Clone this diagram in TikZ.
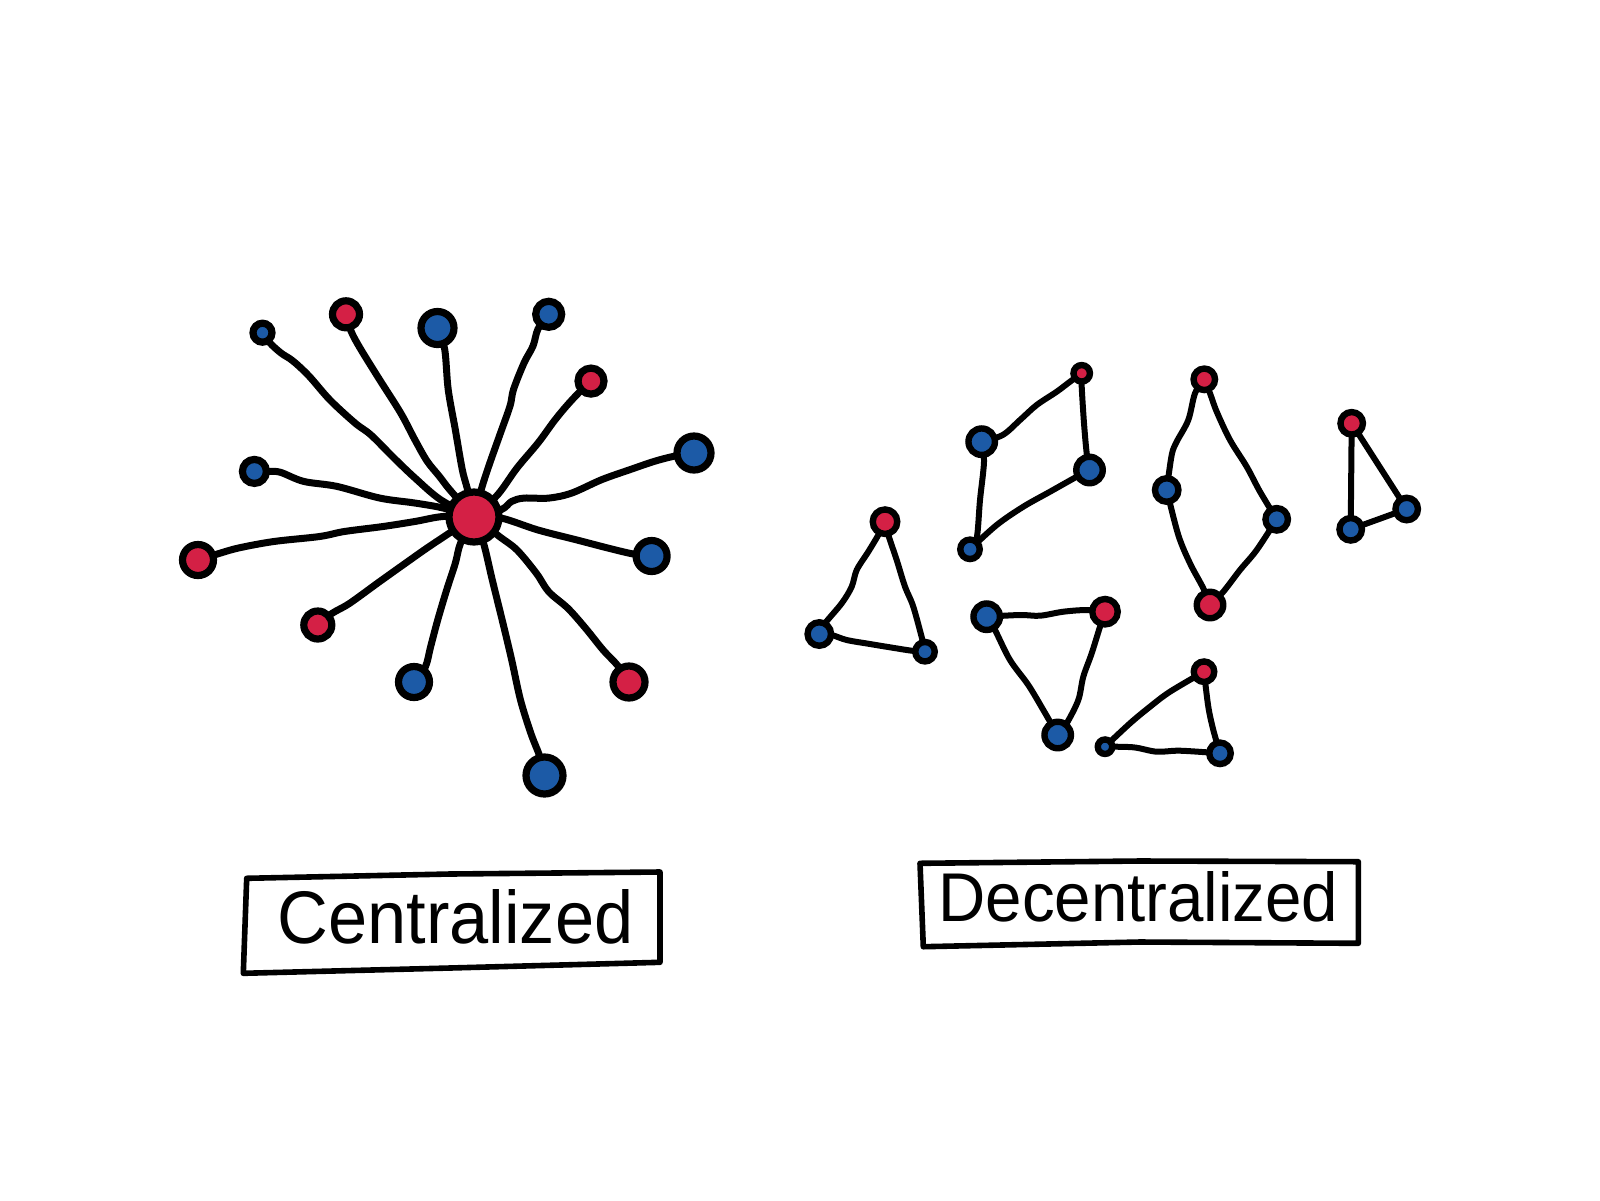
\documentclass[tikz,border=0pt]{standalone}
\usepackage{fontspec}
\newfontfamily\hand{Liberation Sans}
\usetikzlibrary{calc}
\definecolor{nred}{HTML}{D42045}
\definecolor{nblue}{HTML}{1C5AA6}
\pgfdeclarelayer{back}
\pgfdeclarelayer{bg}
\pgfsetlayers{back,bg,main}
\tikzset{
  nd/.style={circle, draw=black, inner sep=0pt},
  srn/.style={nd, line width=3.6pt, fill=nred},
  sbn/.style={nd, line width=3.6pt, fill=nblue},
  drn/.style={nd, line width=3.2pt, fill=nred},
  dbn/.style={nd, line width=3.2pt, fill=nblue},
  sedge/.style={draw=black, line width=3.5pt, line cap=round, line join=round},
  dedge/.style={draw=black, line width=3pt, line cap=round, line join=round},
  boxline/.style={draw=black, line width=2.8pt, line join=round, line cap=round},
}
\begin{document}
\begin{tikzpicture}[x=0.5pt,y=-0.5pt]
\useasboundingbox (0,0) rectangle (1600,1200);
\begin{pgfonlayer}{back}
\fill[white] (0,0) rectangle (1600,1200);
\end{pgfonlayer}

% ---------- centralized star ----------
\node[srn, minimum size=25pt] (C) at (474,517) {};
\node[sbn, minimum size=9.5pt]  (n1)  at (262.5,332.7) {};
\node[srn, minimum size=13.5pt] (n2)  at (346,314.3) {};
\node[sbn, minimum size=16.5pt] (n3)  at (437.5,328) {};
\node[sbn, minimum size=13pt]   (n4)  at (548.7,314.3) {};
\node[srn, minimum size=13pt]   (n5)  at (591,381.1) {};
\node[sbn, minimum size=17pt]   (n6)  at (694,453) {};
\node[sbn, minimum size=15.5pt] (n7)  at (651.6,556) {};
\node[srn, minimum size=16pt]   (n8)  at (629,682) {};
\node[sbn, minimum size=18.5pt] (n9)  at (544.5,775.5) {};
\node[sbn, minimum size=15.5pt] (n10) at (414,682) {};
\node[srn, minimum size=14pt]   (n11) at (317.8,625) {};
\node[srn, minimum size=15.5pt] (n12) at (198,560) {};
\node[sbn, minimum size=12pt]   (n13) at (254.4,471.4) {};

% ---------- decentralized groups ----------
\node[drn, minimum size=12.25pt] (Ar)  at (885,521.7) {};
\node[dbn, minimum size=11.75pt] (Ab1) at (819.3,634) {};
\node[dbn, minimum size=9.75pt]  (Ab2) at (925,651.7) {};

\node[drn, minimum size=8.25pt]  (Br)  at (1081.7,373.3) {};
\node[dbn, minimum size=13.25pt] (Bb1) at (981.7,441.7) {};
\node[dbn, minimum size=13.25pt] (Bb2) at (1089.5,470) {};
\node[dbn, minimum size=9.75pt]  (Bb3) at (970,549.3) {};

\node[dbn, minimum size=13.25pt] (Eb1) at (986.7,616.7) {};
\node[drn, minimum size=12.75pt] (Er)  at (1105,611.7) {};
\node[dbn, minimum size=13.25pt] (Eb2) at (1057.7,735) {};

\node[drn, minimum size=10.75pt] (Cr1) at (1204.3,379.3) {};
\node[dbn, minimum size=11.75pt] (Cb1) at (1166.7,490) {};
\node[dbn, minimum size=11.25pt] (Cb2) at (1276.7,519.3) {};
\node[drn, minimum size=13.25pt] (Cr2) at (1210,605) {};

\node[drn, minimum size=11.25pt] (Dr)  at (1351.7,423.3) {};
\node[dbn, minimum size=11.25pt] (Db1) at (1406.7,509) {};
\node[dbn, minimum size=11.25pt] (Db2) at (1350.7,529.3) {};

\node[drn, minimum size=10.25pt] (Fr)  at (1204,671.7) {};
\node[dbn, minimum size=7.25pt]  (Fb1) at (1105,746.7) {};
\node[dbn, minimum size=10.75pt] (Fb2) at (1220,753.3) {};

% ---------- labels ----------
\node[anchor=base west, inner sep=0pt] (lc) at (277,943) {\resizebox{178pt}{27pt}{\hand Centralized}};
\node[anchor=base west, inner sep=0pt] (ld) at (938,921) {\resizebox{200pt}{25pt}{\hand Decentralized}};

\coordinate (c1) at (246.7,878.3);
\coordinate (c2) at (660,872);
\coordinate (c3) at (660,962.3);
\coordinate (c4) at (243.3,973.3);
\draw[boxline] (c1) -- (450,874) -- (c2) -- (c3) -- (450,968) -- (c4) -- cycle;

\coordinate (d1) at (920,863.3);
\coordinate (d2) at (1358.3,861.7);
\coordinate (d3) at (1358.3,943.3);
\coordinate (d4) at (923.3,946.7);
\draw[boxline] (d1) -- (1140,861) -- (d2) -- (d3) -- (1140,942) -- (d4) -- cycle;

\begin{pgfonlayer}{bg}
% star edges
\draw[sedge] plot[smooth, tension=0.55] coordinates {(n1.center)(270,343)(281,353)(293,361)(309,376)(330,400)(355,423)(371,435)(394,458)(415,478)(441,500)(C.center)};
\draw[sedge] plot[smooth, tension=0.55] coordinates {(n2.center)(351,331)(360,348)(379.5,379.5)(400.7,413)(414.8,439.6)(427,461)(439.4,476.4)(450,490)(C.center)};
\draw[sedge] plot[smooth, tension=0.55] coordinates {(n3.center)(444.7,349.4)(448.2,389.5)(455.3,429.6)(462.3,469.7)(467.6,489.7)(C.center)};
\draw[sedge] plot[smooth, tension=0.55] coordinates {(n4.center)(538,329)(533,346)(524,363)(513.5,389.5)(510,406)(499.4,436)(488.8,466)(481.7,488)(C.center)};
\draw[sedge] plot[smooth, tension=0.55] coordinates {(n5.center)(578.7,392.8)(566.3,406.2)(554,421.2)(538,443)(517,468)(497.6,494.8)(C.center)};
\draw[sedge] plot[smooth, tension=0.55] coordinates {(n6.center)(673.8,456.3)(654.5,461.3)(629.8,469.7)(601.6,479.7)(571.6,493.1)(548.7,498.1)(524,498.1)(511.7,501.4)(501,509.8)(C.center)};
\draw[sedge] plot[smooth, tension=0.55] coordinates {(n7.center)(633.3,554)(608.6,548.2)(577,540)(538,530)(501,518)(C.center)};
\draw[sedge] plot[smooth, tension=0.55] coordinates {(n8.center)(617.4,665.2)(603.3,650.2)(585.7,628.4)(568,608.4)(548.7,591.7)(536.4,573.3)(517,550)(499.4,536.5)(C.center)};
\draw[sedge] plot[smooth, tension=0.55] coordinates {(n9.center)(540,757)(531,733.7)(520.5,700)(511.7,660)(503,623.4)(492.3,580)(483.5,543)(C.center)};
\draw[sedge] plot[smooth, tension=0.55] coordinates {(n10.center)(425.3,667)(430.6,646.8)(437.7,620)(446.5,590.4)(455.3,563.3)(460.6,543)(C.center)};
\draw[sedge] plot[smooth, tension=0.55] coordinates {(n11.center)(332,613.4)(349.5,603.4)(379.5,581.7)(407.7,561.6)(427,548)(446.5,535)(C.center)};
\draw[sedge] plot[smooth, tension=0.55] coordinates {(n12.center)(217.4,554)(238.5,548)(273.8,541.5)(319.6,536.5)(344.3,531.5)(383,526.5)(414.8,521.5)(443,516.5)(C.center)};
\draw[sedge] plot[smooth, tension=0.55] coordinates {(n13.center)(270,471.4)(280.8,472.4)(303.7,481.4)(337,486.4)(379.5,498)(414.8,503)(443,508)(C.center)};
% group A
\draw[dedge] plot[smooth, tension=0.55] coordinates {(Ar.center)(878.3,535)(868.3,551.7)(856.7,570)(851.7,586.7)(841.7,603.3)(825,623.3)(Ab1.center)};
\draw[dedge] plot[smooth, tension=0.55] coordinates {(Ar.center)(888.3,535)(896.7,560)(905,586.7)(913.3,606.7)(923.3,643.3)(Ab2.center)};
\draw[dedge] plot[smooth, tension=0.55] coordinates {(Ab1.center)(831.7,635)(846.7,640)(870,644)(890,647.3)(911.7,650.7)(Ab2.center)};
% group B
\draw[dedge] plot[smooth, tension=0.55] coordinates {(Bb1.center)(1002.7,435)(1020,420)(1036.7,405)(1056.7,391.7)(1070,381.7)(Br.center)};
\draw[dedge] plot[smooth, tension=0.55] coordinates {(Br.center)(1081.7,386.7)(1084,423.3)(1086.7,453.3)(Bb2.center)};
\draw[dedge] plot[smooth, tension=0.55] coordinates {(Bb1.center)(984,461.7)(980,500)(976.7,538.3)(Bb3.center)};
\draw[dedge] plot[smooth, tension=0.55] coordinates {(Bb3.center)(996.7,525)(1023.3,506.7)(1050,491.7)(1076.7,476.7)(Bb2.center)};
% group E
\draw[dedge] plot[smooth, tension=0.55] coordinates {(Eb1.center)(1020,615)(1040,615.7)(1063.3,611.7)(1086.7,610)(Er.center)};
\draw[dedge] plot[smooth, tension=0.55] coordinates {(Eb1.center)(995,630)(1010,660)(1028.3,685)(1043.3,710)(Eb2.center)};
\draw[dedge] plot[smooth, tension=0.55] coordinates {(Er.center)(1100,626.7)(1091.7,653.3)(1083.3,676.7)(1078.3,700)(1066.7,723.3)(Eb2.center)};
% group C
\draw[dedge] plot[smooth, tension=0.55] coordinates {(Cr1.center)(1195,393.3)(1188.3,420)(1176.7,441.7)(1171.7,455)(Cb1.center)};
\draw[dedge] plot[smooth, tension=0.55] coordinates {(Cr1.center)(1210,393.3)(1216.7,411.7)(1230,440)(1246.7,466.7)(1260,491.7)(Cb2.center)};
\draw[dedge] plot[smooth, tension=0.55] coordinates {(Cb1.center)(1178.3,535)(1190,563.3)(1203.3,588.3)(Cr2.center)};
\draw[dedge] plot[smooth, tension=0.55] coordinates {(Cb2.center)(1256.7,550)(1240,570)(1223.3,591.7)(Cr2.center)};
% group D
\draw[dedge] (Dr.center) -- (Db2.center);
\draw[dedge] (Dr.center) -- (Db1.center);
\draw[dedge] (Db2.center) -- (Db1.center);
% group F
\draw[dedge] plot[smooth, tension=0.55] coordinates {(Fb1.center)(1130,723.3)(1150,706.7)(1170,691.7)(Fr.center)};
\draw[dedge] plot[smooth, tension=0.55] coordinates {(Fr.center)(1208.3,706.7)(1213.3,730)(Fb2.center)};
\draw[dedge] plot[smooth, tension=0.55] coordinates {(Fb1.center)(1133.3,747.3)(1156.7,751.7)(1180,750.7)(Fb2.center)};
\end{pgfonlayer}
\end{tikzpicture}
\end{document}
